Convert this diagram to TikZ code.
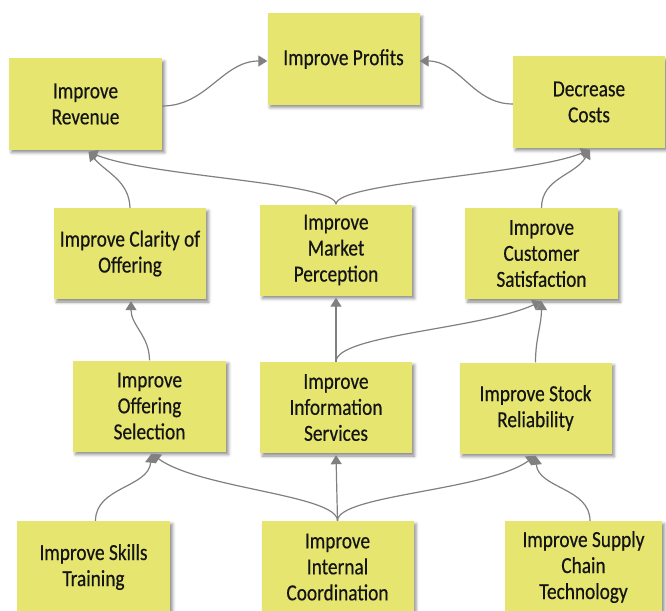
\documentclass[tikz,border=0pt]{standalone}
\usepackage{fontspec}
\setmainfont{Carlito}[FakeStretch=0.84,FakeBold=0.4]
\usetikzlibrary{arrows.meta,shadows.blur}
\definecolor{sticky}{RGB}{229,229,112}
\definecolor{arrowgray}{RGB}{128,128,128}
\definecolor{inkc}{RGB}{20,20,20}
\tikzset{
  note/.style={fill=sticky, minimum width=#1, minimum height=91pt, inner sep=0pt,
    align=center, text=inkc, font=\fontsize{23}{26}\selectfont,
    blur shadow={shadow xshift=2.5pt, shadow yshift=-3pt, shadow blur radius=3pt, shadow opacity=45}},
  note/.default=152pt,
  link/.style={draw=arrowgray, line width=1.2pt, -{Triangle[width=11pt,length=9pt]}}
}
\begin{document}
\begin{tikzpicture}[x=1pt,y=1pt]
\useasboundingbox (0,0) rectangle (666,-610);
% top row
\node[note] (prof) at (343.5,-59) {Improve Profits};
\node[note=153pt] (rev) at (85.5,-104) {Improve\\Revenue};
\node[note] (cost) at (589,-102) {Decrease\\Costs};
% second row
\node[note] (clar) at (130,-253.5) {Improve Clarity of\\Offering};
\node[note] (mark) at (336,-250) {Improve\\Market\\Perception};
\node[note=153pt] (cs) at (541.5,-253.5) {Improve\\Customer\\Satisfaction};
% third row
\node[note=153pt] (osel) at (149.5,-406) {Improve\\Offering\\Selection};
\node[note] (info) at (336,-407.5) {Improve\\Information\\Services};
\node[note] (stock) at (535.5,-408) {Improve Stock\\Reliability};
% bottom row
\node[note=153pt, minimum height=92pt] (skills) at (93.5,-567) {Improve Skills\\Training};
\node[note, minimum height=92pt] (int) at (337.5,-567) {Improve\\Internal\\Coordination};
\node[note=157pt, minimum height=92pt] (supply) at (583.5,-567) {Improve Supply\\Chain\\Technology};
% connectors
\draw[link] ([yshift=-2pt]rev.east) to[out=0,in=180] ([yshift=-2pt]prof.west);
\draw[link] ([yshift=-2pt]cost.west) to[out=180,in=0] ([yshift=-2pt]prof.east);
\draw[link] (clar.north) to[out=92,in=-50] ([xshift=3pt,yshift=-2pt]rev.south);
\draw[link] (mark.north) .. controls +(0,22) and +(60,-25) .. ([xshift=3pt,yshift=-2pt]rev.south);
\draw[link] (mark.north) .. controls +(0,22) and +(-60,-25) .. ([xshift=1pt,yshift=-2pt]cost.south);
\draw[link] (cs.north) to[out=90,in=-120] ([xshift=1pt,yshift=-2pt]cost.south);
\draw[link] (osel.north) to[out=90,in=-90] ([xshift=1pt,yshift=-2pt]clar.south);
\draw[link] (info.north) -- ([yshift=-2pt]mark.south);
\draw[link] (info.north) .. controls +(0,27) and +(-61,-28) .. ([yshift=-2pt]cs.south);
\draw[link] (stock.north) to[out=90,in=-90] ([yshift=-2pt]cs.south);
\draw[link] ([xshift=2pt]skills.north) to[out=90,in=-95] ([xshift=2pt,yshift=-2pt]osel.south);
\draw[link] (int.north) .. controls +(0,26) and +(48,-35) .. ([xshift=2pt,yshift=-2pt]osel.south);
\draw[link] (int.north) -- ([yshift=-2pt]info.south);
\draw[link] (int.north) .. controls +(0,26) and +(-48,-35) .. ([yshift=-2pt]stock.south);
\draw[link] ([xshift=6.5pt]supply.north) to[out=90,in=-85] ([yshift=-2pt]stock.south);
\end{tikzpicture}
\end{document}
